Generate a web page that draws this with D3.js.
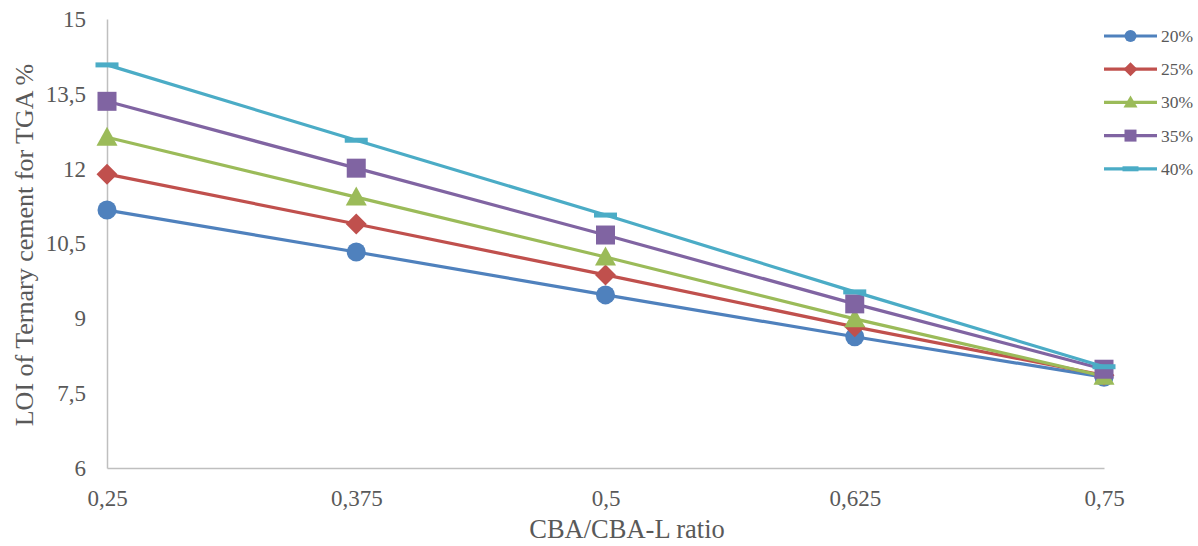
<!DOCTYPE html>
<html><head><meta charset="utf-8">
<script src="https://cdn.jsdelivr.net/npm/d3@7"></script>
<style>body{margin:0;background:#fff}svg{display:block}</style>
</head><body>
<svg id="c" width="1198" height="546"></svg>
<script>
const xValues = [0.25, 0.375, 0.5, 0.625, 0.75];
const xTickLabels = ["0,25", "0,375", "0,5", "0,625", "0,75"];
const yTicks = [6, 7.5, 9, 10.5, 12, 13.5, 15];
const yTickLabels = ["6", "7,5", "9", "10,5", "12", "13,5", "15"];
const seriesNames = ["20%", "25%", "30%", "35%", "40%"];
const s20 = [11.17, 10.33, 9.47, 8.63, 7.82];
const s25 = [11.89, 10.89, 9.87, 8.83, 7.86];
const s30 = [12.63, 11.43, 10.23, 8.99, 7.84];
const s35 = [13.35, 12.01, 10.67, 9.29, 7.98];
const s40 = [14.08, 12.57, 11.07, 9.53, 8.03];
const seriesValues = [s20, s25, s30, s35, s40];
const colors = ["#4F81BD", "#C0504D", "#9BBB59", "#8064A2", "#4BACC6"];
const markers = ["circle", "diamond", "triangle", "square", "dash"];

const svg = d3.select("#c");
const m = {l:107, r:1104, t:19, b:468};
const x = d3.scaleLinear().domain([0.25, 0.75]).range([m.l, m.r]);
const y = d3.scaleLinear().domain([6, 15]).range([m.b, m.t]);
const font = "'Liberation Serif', 'Times New Roman', serif";

// axes
const xAxis = d3.axisBottom(x).tickValues(xValues).tickFormat((d,i)=>xTickLabels[i]).tickSize(0).tickPadding(22);
const gx = svg.append("g").attr("transform", `translate(0,${m.b})`).call(xAxis);
gx.select(".domain").attr("stroke", "#BFBFBF").attr("stroke-width", 1.5);
gx.selectAll("text").attr("font-family", font).attr("font-size", 23).attr("fill", "#595959");

const yAxis = d3.axisLeft(y).tickValues(yTicks).tickFormat((d,i)=>yTickLabels[i]).tickSize(0).tickPadding(21);
const gy = svg.append("g").attr("transform", `translate(${m.l},0)`).call(yAxis);
gy.select(".domain").attr("stroke", "#BFBFBF").attr("stroke-width", 1.5);
gy.selectAll("text").attr("font-family", font).attr("font-size", 23).attr("fill", "#595959");

// titles
svg.append("text").attr("x", 627).attr("y", 538).attr("text-anchor","middle")
  .attr("font-family", font).attr("font-size", 26.5).attr("fill", "#595959").text("CBA/CBA-L ratio");
svg.append("text").attr("transform", `translate(33,245) rotate(-90)`).attr("text-anchor","middle")
  .attr("font-family", font).attr("font-size", 26).attr("fill", "#595959").text("LOI of Ternary cement for TGA %");

function drawMarker(g, type, cx, cy, s, color) {
  if (type === "circle") g.append("circle").attr("cx", cx).attr("cy", cy).attr("r", s).attr("fill", color);
  else if (type === "diamond") g.append("path").attr("d", `M${cx},${cy-s-1}L${cx+s+1},${cy}L${cx},${cy+s+1}L${cx-s-1},${cy}Z`).attr("fill", color);
  else if (type === "triangle") g.append("path").attr("d", `M${cx},${cy-s-1}L${cx+s+1},${cy+s-1}L${cx-s-1},${cy+s-1}Z`).attr("fill", color);
  else if (type === "square") g.append("rect").attr("x", cx-s).attr("y", cy-s).attr("width", 2*s).attr("height", 2*s).attr("fill", color);
  else if (type === "dash") g.append("rect").attr("x", cx-s-2).attr("y", cy-2.5).attr("width", 2*s+4).attr("height", 5).attr("fill", color);
}

const line = d3.line().x((d,i)=>x(xValues[i])).y(d=>y(d));
seriesValues.forEach((vals, si) => {
  const g = svg.append("g");
  g.append("path").attr("d", line(vals)).attr("fill", "none").attr("stroke", colors[si]).attr("stroke-width", 3.2).attr("stroke-linejoin","round");
  vals.forEach((v, i) => drawMarker(g, markers[si], x(xValues[i]), y(v), 9.5, colors[si]));
});

// legend
const lg = svg.append("g");
seriesNames.forEach((n, i) => {
  const cy = 36 + i * 33.2;
  lg.append("line").attr("x1", 1104).attr("x2", 1157).attr("y1", cy).attr("y2", cy).attr("stroke", colors[i]).attr("stroke-width", 3.2);
  drawMarker(lg, markers[i], 1130.5, cy, 6, colors[i]);
  lg.append("text").attr("x", 1161).attr("y", cy + 6).attr("font-family", font).attr("font-size", 17.5).attr("fill", "#595959").text(n);
});
</script>
</body></html>
